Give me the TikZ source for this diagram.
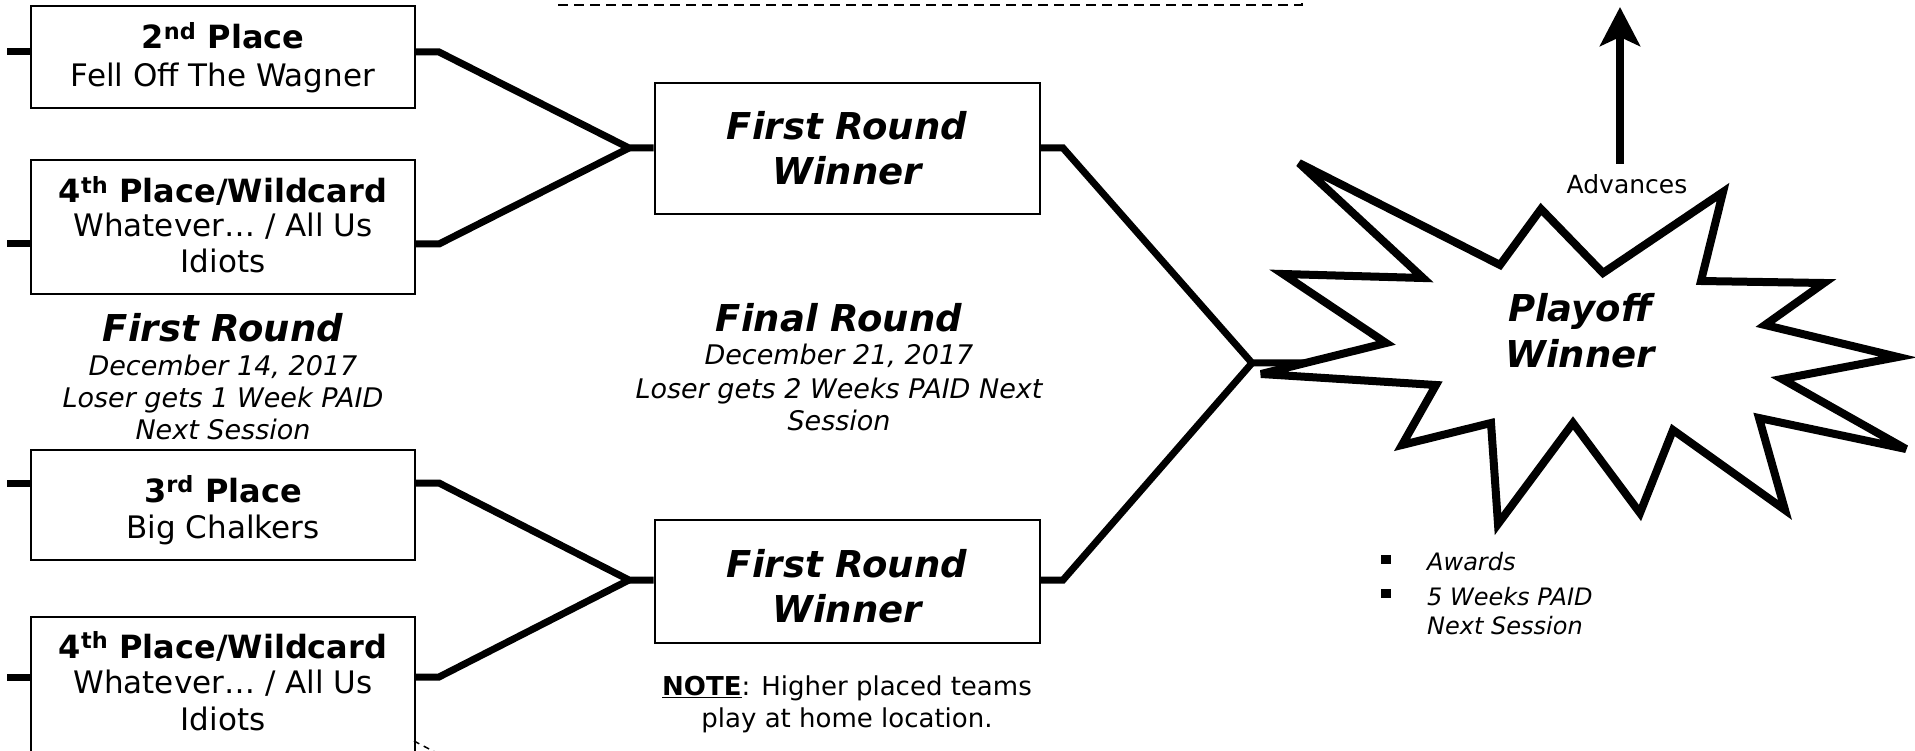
\documentclass[tikz,border=0pt]{standalone}
\usepackage{fontspec}
\setmainfont{DejaVu Sans}
\usetikzlibrary{arrows.meta}
\begin{document}
\begin{tikzpicture}[x=1pt,y=-1pt,
  teambox/.style={draw, line width=2pt, minimum width=384pt, inner sep=0pt},
  wbox/.style={draw, line width=2pt, minimum width=385pt, inner sep=0pt},
  tline/.style={anchor=base, inner sep=0pt, font=\fontsize{31}{36}\selectfont},
  tbold/.style={anchor=base, inner sep=0pt, font=\fontsize{32}{36}\selectfont\bfseries},
  head/.style={anchor=base, inner sep=0pt, font=\fontsize{37}{44}\selectfont\bfseries\itshape},
  subline/.style={anchor=base, inner sep=0pt, font=\fontsize{27}{32}\selectfont\itshape},
  noteline/.style={anchor=base, inner sep=0pt, font=\fontsize{26}{32}\selectfont},
  bul/.style={anchor=base west, inner sep=0pt, font=\fontsize{24}{30}\selectfont\itshape},
  bulsq/.style={fill=black, inner sep=0pt, minimum width=10pt, minimum height=9pt},
  bracket/.style={line width=7pt, line join=miter},
  dashedbox/.style={draw, dashed, line width=1.5pt, dash pattern=on 10pt off 6pt}
]
\useasboundingbox (0,0) rectangle (1915,751);
\clip (0,0) rectangle (1915,751);

% top dashed frame (mostly off picture)
\draw[dashedbox] (559,-60) rectangle (1302,5);

% team boxes
\node[teambox, minimum height=102pt] (b2) at (223,57) {};
\node[teambox, minimum height=134pt] (b4a) at (223,227) {};
\node[teambox, minimum height=110pt] (b3) at (223,505) {};
\node[teambox, minimum height=136pt] (b4b) at (223,685) {};

% winner boxes
\node[wbox, minimum height=131pt] (w1) at (847,148.5) {};
\node[wbox, minimum height=123pt] (w2) at (847,581.5) {};

% texts in team boxes
\node[tbold] (b2t1) at (223,49) {2\textsuperscript{nd} Place};
\node[tline] (b2t2) at (223,87) {Fell Off The Wagner};
\node[tbold] (b4at1) at (223,203) {4\textsuperscript{th} Place/Wildcard};
\node[tline] (b4at2) at (223,237) {Whatever… / All Us};
\node[tline] (b4at3) at (223,273) {Idiots};
\node[tbold] (b3t1) at (223,502) {3\textsuperscript{rd} Place};
\node[tline] (b3t2) at (223,538) {Big Chalkers};
\node[tbold] (b4bt1) at (223,658) {4\textsuperscript{th} Place/Wildcard};
\node[tline] (b4bt2) at (223,693) {Whatever… / All Us};
\node[tline] (b4bt3) at (223,730) {Idiots};

% winner box texts
\node[head] (w1t1) at (847,140) {First Round};
\node[head] (w1t2) at (847,185) {Winner};
\node[head] (w2t1) at (847,577) {First Round};
\node[head] (w2t2) at (847,622) {Winner};

% round captions
\node[head] (fr1) at (223,342) {First Round};
\node[subline] (fr2) at (223,375) {December 14, 2017};
\node[subline] (fr3) at (223,407) {Loser gets 1 Week PAID};
\node[subline] (fr4) at (223,439) {Next Session};
\node[head] (fn1) at (839,332) {Final Round};
\node[subline] (fn2) at (839,365) {December 21, 2017};
\node[subline] (fn3) at (839,398) {Loser gets 2 Weeks PAID Next};
\node[subline] (fn4) at (839,430) {Session};

% note
\node[noteline] (n1) at (847,695) {\underline{\textbf{NOTE}}: Higher placed teams};
\node[noteline] (n2) at (847,727) {play at home location.};

% bracket coordinates
\coordinate (l2) at (7,52);
\coordinate (r2) at (439,52);
\coordinate (l4a) at (7,244);
\coordinate (r4a) at (439,244);
\coordinate (J1) at (629,148);
\coordinate (l3) at (7,483);
\coordinate (r3) at (439,483);
\coordinate (l4b) at (7,677);
\coordinate (r4b) at (439,677);
\coordinate (J2) at (629,580);
\coordinate (q1) at (1063,148);
\coordinate (q2) at (1063,580);
\coordinate (J3) at (1252,363);
\coordinate (e3) at (1306,363);

\draw[bracket] (l2) -- (l2 -| b2.west);
\draw[bracket] (l4a) -- (l4a -| b4a.west);
\draw[bracket] (l3) -- (l3 -| b3.west);
\draw[bracket] (l4b) -- (l4b -| b4b.west);

\draw[bracket] (r2 -| b2.east) -- (r2) -- (J1) -- (J1 -| w1.west);
\draw[bracket] (r4a -| b4a.east) -- (r4a) -- (J1);
\draw[bracket] (r3 -| b3.east) -- (r3) -- (J2) -- (J2 -| w2.west);
\draw[bracket] (r4b -| b4b.east) -- (r4b) -- (J2);

\draw[bracket] (q1 -| w1.east) -- (q1) -- (J3) -- (e3);
\draw[bracket] (q2 -| w2.east) -- (q2) -- (J3);

% star
\draw[line width=8pt, fill=white, line join=miter, miter limit=6]
  (1299,163) -- (1500,265) -- (1541,209) -- (1603,273) -- (1723,192)
  -- (1701,281) -- (1824,283) -- (1765,325) -- (1898,357) -- (1782,379)
  -- (1906,449) -- (1759,418) -- (1785,510) -- (1673,430) -- (1640,513)
  -- (1573,423) -- (1498,524) -- (1491,423) -- (1402,445) -- (1436,385)
  -- (1261,374) -- (1386,343) -- (1283,274) -- (1423,278) -- cycle;
\node[head] (pw1) at (1580,322) {Playoff};
\node[head] (pw2) at (1580,367) {Winner};

% advances arrow
\node[anchor=base, inner sep=0pt, font=\fontsize{25}{30}\selectfont] (adv) at (1627,194) {Advances};
\coordinate (a0) at (1620,164);
\coordinate (a1) at (1620,7);
\draw[line width=8pt, -{Stealth[length=39pt,width=40pt,inset=9pt]}] (a0) -- (a1);

% bullets
\node[bulsq] (bq1) at (1386,559) {};
\node[bulsq] (bq2) at (1386,593) {};
\node[bul] (bt1) at (1427,570) {Awards};
\node[bul] (bt2) at (1427,605) {5 Weeks PAID};
\node[bul] (bt3) at (1427,634) {Next Session};

% dashed fragment below last box
\coordinate (d0) at (414,741);
\coordinate (d1) at (450,760);
\draw[line width=1.5pt, dash pattern=on 6pt off 5pt] (d0) -- (d1);
\end{tikzpicture}
\end{document}
